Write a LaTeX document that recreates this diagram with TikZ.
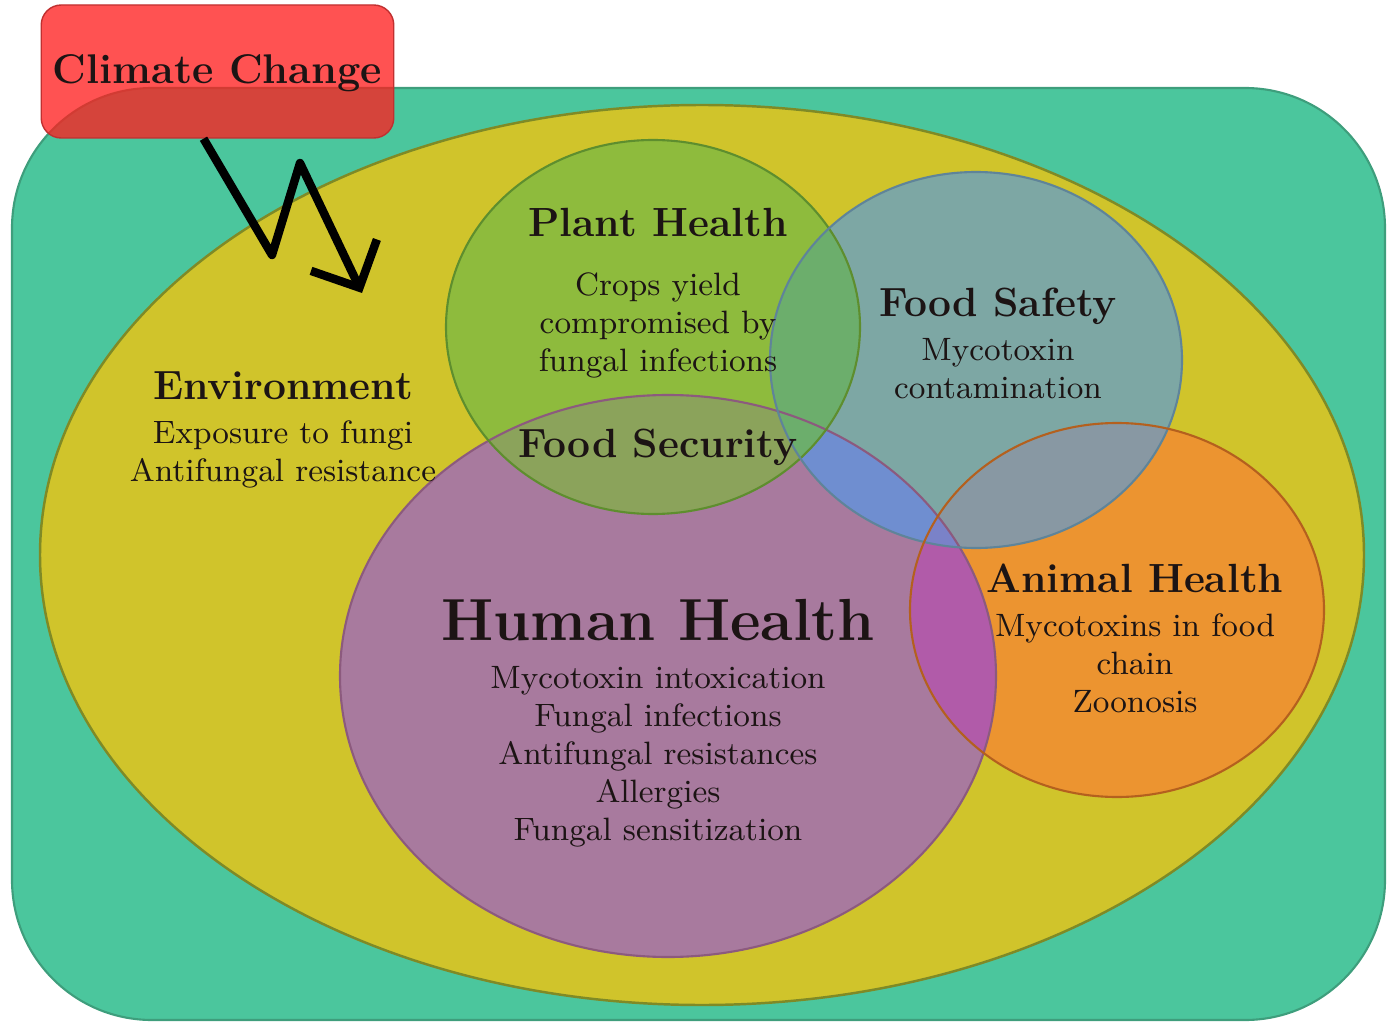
\documentclass[tikz,border=0pt]{standalone}
\usepackage{tikz}
\usetikzlibrary{arrows.meta, positioning}

\definecolor{bggreen}{HTML}{4BC69D}
\definecolor{bgedge}{HTML}{3E9E7C}
\definecolor{envyellow}{HTML}{D0C42B}
\definecolor{envedge}{HTML}{7F8A26}
\definecolor{plantfill}{HTML}{8EBB3D}
\definecolor{plantedge}{HTML}{5E8E2E}
\definecolor{safefill}{HTML}{7DA7A4}
\definecolor{safeedge}{HTML}{5F8499}
\definecolor{animfill}{HTML}{EC9430}
\definecolor{animedge}{HTML}{B4601E}
\definecolor{humanfill}{HTML}{A87A9E}
\definecolor{humanedge}{HTML}{8C5A7E}
\definecolor{plhu}{HTML}{8BA35B}
\definecolor{plsa}{HTML}{6CAE6C}
\definecolor{sahu}{HTML}{6F8ED0}
\definecolor{saan}{HTML}{8898A3}
\definecolor{huan}{HTML}{B15BA9}
\definecolor{sahuan}{HTML}{7A82C8}
\definecolor{climred}{RGB}{255,30,30}
\definecolor{climedge}{HTML}{C03030}
\definecolor{txtdark}{HTML}{1C1414}

% the overlapping areas, reused for fills, clips and outlines
\newcommand{\plantarea}{(6.53,-3.27) ellipse [x radius=2.07, y radius=1.87]}
\newcommand{\safearea}{(9.76,-3.60) ellipse [x radius=2.06, y radius=1.88]}
\newcommand{\animarea}{(11.17,-6.10) ellipse [x radius=2.07, y radius=1.87]}
\newcommand{\humanarea}{(6.68,-6.76) ellipse [x radius=3.28, y radius=2.81]}

\begin{document}
\begin{tikzpicture}[
    head/.style={font=\fontsize{11.6}{13.5}\selectfont\bfseries, inner sep=0pt, text depth=0pt, anchor=base, text=txtdark},
    body/.style={font=\fontsize{9.2}{10.8}\selectfont, align=center, inner sep=0pt, text=txtdark},
    clim/.style={draw=climedge, fill=climred, fill opacity=0.77, text opacity=1, rounded corners=0.2cm,
                 minimum width=3.51cm, minimum height=1.33cm, text height=1.6ex, text depth=0pt,
                 font=\fontsize{11.8}{14}\selectfont\bfseries, text=txtdark},
    zig/.style={-{Straight Barb[length=3.6mm, width=7.3mm]}, line width=2.4pt, line join=round},
    node distance=0.2cm
]
\useasboundingbox (0,0) rectangle (13.91,-10.25);

% background and environment
\draw[bgedge, fill=bggreen, line width=0.6pt, rounded corners=1.4cm] (0.12,-0.88) rectangle (13.85,-10.20);
\draw[envedge, fill=envyellow, line width=0.7pt] (7.02,-5.55) ellipse [x radius=6.62, y radius=4.50];

% the four health areas
\fill[humanfill] \humanarea;
\fill[plantfill] \plantarea;
\fill[safefill] \safearea;
\fill[animfill] \animarea;

% overlaps
\begin{scope}
  \clip \humanarea;
  \fill[sahu] \safearea;
  \fill[huan] \animarea;
  \fill[plhu] \plantarea;
\end{scope}
\begin{scope}
  \clip \safearea;
  \fill[saan] \animarea;
  \fill[plsa] \plantarea;
\end{scope}
\begin{scope}
  \clip \safearea;
  \clip \animarea;
  \fill[sahuan] \humanarea;
\end{scope}

% outlines on top
\draw[humanedge, line width=0.6pt] \humanarea;
\draw[plantedge, line width=0.6pt] \plantarea;
\draw[safeedge, line width=0.6pt] \safearea;
\draw[animedge, line width=0.6pt] \animarea;

% labels
\node[head] (plant) at (6.58,-2.37) {Plant Health};
\node[body, below=0.34cm of plant] (plantTxt) {Crops yield\\compromised by\\fungal infections};
\node[head] (secur) at (6.58,-4.58) {Food Security};

\node[head] (safe) at (9.98,-3.17) {Food Safety};
\node[body, below=of safe] (safeTxt) {Mycotoxin\\contamination};

\node[head] (env) at (2.83,-3.99) {Environment};
\node[body, below=of env] (envTxt) {Exposure to fungi\\Antifungal resistance};

\node[head] (anim) at (11.35,-5.92) {Animal Health};
\node[body, below=of anim] (animTxt) {Mycotoxins in food\\chain\\Zoonosis};

\node[head, font=\fontsize{16.9}{19}\selectfont\bfseries] (human) at (6.58,-6.40) {Human Health};
\node[body, below=0.25cm of human] (humanTxt) {Mycotoxin intoxication\\Fungal infections\\Antifungal resistances\\Allergies\\Fungal sensitization};

% climate change driver
\node[clim] (cc) at (2.175,-0.715) {Climate Change};
\coordinate (zA) at (2.72,-2.55);
\coordinate (zB) at (3.00,-1.63);
\coordinate (zTip) at (3.62,-2.93);
\draw[zig] ([xshift=-0.14cm]cc.south) -- (zA) -- (zB) -- (zTip);
\end{tikzpicture}
\end{document}
